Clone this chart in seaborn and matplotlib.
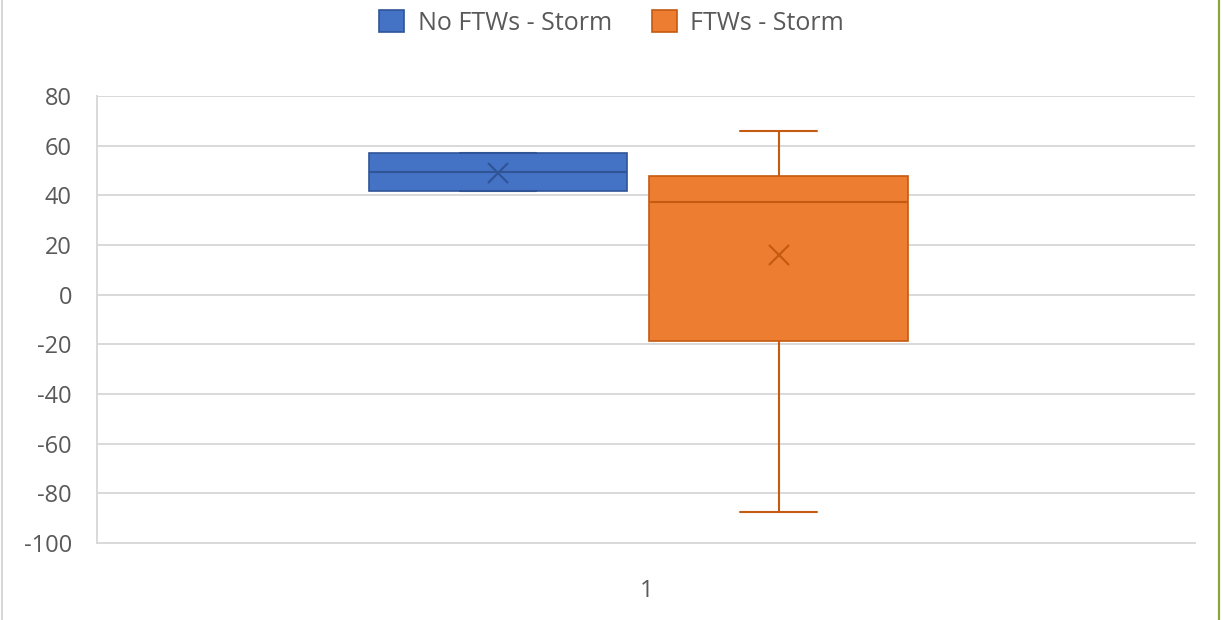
import numpy as np
import pandas as pd
import matplotlib
matplotlib.use("Agg")
import matplotlib.pyplot as plt
import matplotlib.transforms as mtransforms
from matplotlib.patches import Patch
from matplotlib.lines import Line2D
import seaborn as sns

# Five-number summaries and means for each series
series = ["No FTWs - Storm", "FTWs - Storm"]
category = "1"
whisker_low = [41.8, -87.4]
q1 = [41.8, -18.5]
median = [49.3, 37.2]
q3 = [57.2, 47.8]
whisker_high = [57.2, 65.9]
means = [48.9, 16.0]
y_ticks = [-100, -80, -60, -40, -20, 0, 20, 40, 60, 80]

fill_colors = ["#4472C4", "#ED7D31"]
edge_colors = ["#2F5597", "#C55A11"]
text_color = "#595959"
grid_color = "#D9D9D9"

# Long-form table: with five points, linear quartiles land exactly on the summary values
rows = []
for name, lo, a, m, b, hi in zip(series, whisker_low, q1, median, q3, whisker_high):
    for v in (lo, a, m, b, hi):
        rows.append({"group": category, "series": name, "value": v})
df = pd.DataFrame(rows)

sns.set_theme(style="white")
plt.rcParams["font.family"] = ["Open Sans", "DejaVu Sans"]
plt.rcParams["axes.unicode_minus"] = False

fig = plt.figure(figsize=(12.23, 6.2), dpi=100)
ax = fig.add_axes([0.0793, 0.124, 0.8978, 0.721])

sns.boxplot(data=df, x="group", y="value", hue="series", hue_order=series,
            palette=fill_colors, whis=(0, 100), width=0.511, gap=0.078,
            showfliers=False, linewidth=1.5, saturation=1, capwidths=0.07,
            ax=ax, legend=False)

# Per-series outline colours
for patch, ec in zip(ax.patches, edge_colors):
    patch.set_edgecolor(ec)
    patch.set_linewidth(1.2)
for line in list(ax.lines):
    xd = np.asarray(line.get_xdata(), dtype=float)
    line.set_color(edge_colors[0] if xd.mean() < 0 else edge_colors[1])
    line.set_linewidth(1.5)

# Mean markers at each box centre
for patch, mean, ec in zip(ax.patches, means, edge_colors):
    ext = patch.get_path().get_extents()
    cx = (ext.x0 + ext.x1) / 2
    ax.plot([cx], [mean], marker="x", ms=14, mew=1.6, color=ec, ls="none", zorder=5)

ax.set_ylim(-100, 80)
ax.set_yticks(y_ticks)
ax.set_xlim(-0.493, 0.507)
ax.set_xlabel("")
ax.set_ylabel("")
ax.yaxis.grid(True, color=grid_color, lw=1.4)
ax.set_axisbelow(True)
for side in ("top", "right"):
    ax.spines[side].set_visible(False)
for side in ("left", "bottom"):
    ax.spines[side].set_color(grid_color)
    ax.spines[side].set_linewidth(1.4)
ax.tick_params(axis="y", length=0, pad=18, labelsize=17, labelcolor=text_color)
ax.tick_params(axis="x", length=0, pad=26, labelsize=17, labelcolor=text_color)

# Category label sits at the middle of the plot area
shift = mtransforms.ScaledTranslation(0.08, 0, fig.dpi_scale_trans)
for lab in ax.get_xticklabels():
    lab.set_transform(lab.get_transform() + shift)

handles = [Patch(facecolor=fc, edgecolor=ec, linewidth=1.2)
           for fc, ec in zip(fill_colors, edge_colors)]
leg = fig.legend(handles, series, loc="upper center", bbox_to_anchor=(0.5, 1.02),
                 ncol=2, frameon=False, fontsize=18, handlelength=1.0,
                 handleheight=1.0, handletextpad=0.55, columnspacing=1.6)
for t in leg.get_texts():
    t.set_color(text_color)

# Chart frame edges
fig.add_artist(Line2D([0.002, 0.002], [0, 1], color="#D0D0D0", lw=1.2,
                      transform=fig.transFigure))
fig.add_artist(Line2D([0.9965, 0.9965], [0, 1], color="#8DA43A", lw=1.6,
                      transform=fig.transFigure))

fig.savefig("out.png", dpi=100, facecolor="white")
